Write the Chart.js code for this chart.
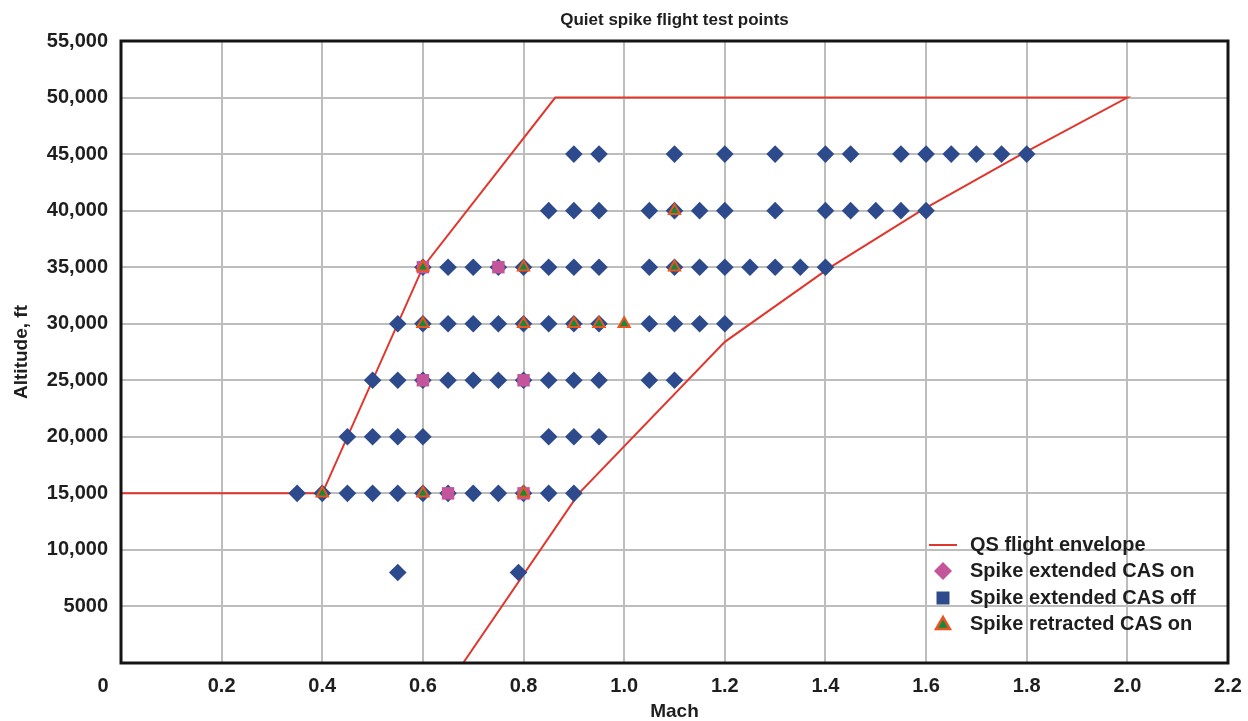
<!DOCTYPE html>
<html>
<head>
<meta charset="utf-8">
<title>Quiet spike flight test points</title>
<script src="https://cdn.jsdelivr.net/npm/chart.js@4.4.0/dist/chart.umd.min.js"></script>
<style>
    html, body { margin: 0; padding: 0; background: #fff; }
</style>
</head>
<body>
<canvas id="myChart" width="1248" height="721"></canvas>
<script>
// QS flight envelope, walked round the boundary (Mach / altitude ft)
const envelopeMach = [0, 0.4, 0.6, 0.863, 2.0, 1.79, 1.59, 1.41, 1.2, 0.91, 0.68]
const envelopeAlt = [15000, 15000, 35000, 50000, 50000, 45000, 40000, 35000, 28400, 15000, 0]

// test points, one Mach list per altitude row
const casOffAlt = [45000, 40000, 35000, 30000, 25000, 20000, 15000, 8000]
const casOffMach = [
    [0.9, 0.95, 1.1, 1.2, 1.3, 1.4, 1.45, 1.55, 1.6, 1.65, 1.7, 1.75, 1.8],
    [0.85, 0.9, 0.95, 1.05, 1.1, 1.15, 1.2, 1.3, 1.4, 1.45, 1.5, 1.55, 1.6],
    [0.6, 0.65, 0.7, 0.75, 0.8, 0.85, 0.9, 0.95, 1.05, 1.1, 1.15, 1.2, 1.25, 1.3, 1.35, 1.4],
    [0.55, 0.6, 0.65, 0.7, 0.75, 0.8, 0.85, 0.9, 0.95, 1.05, 1.1, 1.15, 1.2],
    [0.5, 0.55, 0.6, 0.65, 0.7, 0.75, 0.8, 0.85, 0.9, 0.95, 1.05, 1.1],
    [0.45, 0.5, 0.55, 0.6, 0.85, 0.9, 0.95],
    [0.35, 0.4, 0.45, 0.5, 0.55, 0.6, 0.65, 0.7, 0.75, 0.8, 0.85, 0.9],
    [0.55, 0.79]
]

const casOnAlt = [35000, 25000, 15000]
const casOnMach = [
    [0.6, 0.75],
    [0.6, 0.8],
    [0.65, 0.8]
]

const retractedAlt = [40000, 35000, 30000, 15000]
const retractedMach = [
    [1.1],
    [0.6, 0.8, 1.1],
    [0.6, 0.8, 0.9, 0.95, 1.0],
    [0.4, 0.6, 0.8]
]

const machTicks = [0, 0.2, 0.4, 0.6, 0.8, 1.0, 1.2, 1.4, 1.6, 1.8, 2.0, 2.2]
const altTicks = [0, 5000, 10000, 15000, 20000, 25000, 30000, 35000, 40000, 45000, 50000, 55000]

const FONT = "'Liberation Sans', Arial, Helvetica, sans-serif"
const TEXT = '#1e1e1e'
const colors = {
    envelope: '#e1362c',
    casOn: '#c4559b',
    casOff: '#2d4a8d',
    triFill: '#128a3d',
    triEdge: '#e8561f'
}

function rowsToPoints(alts, machs) {
    let pts = []
    alts.forEach((alt, i) => machs[i].forEach(m => pts.push({x: m, y: alt})))
    return pts
}

function drawMarker(ctx, style, x, y, r) {
    ctx.beginPath()
    if (style === 'diamond') {
        ctx.moveTo(x, y - r); ctx.lineTo(x + r, y); ctx.lineTo(x, y + r); ctx.lineTo(x - r, y)
    } else if (style === 'square') {
        ctx.rect(x - r, y - r, 2 * r, 2 * r)
    } else {
        ctx.moveTo(x, y - r); ctx.lineTo(x + r * 0.866, y + r / 2); ctx.lineTo(x - r * 0.866, y + r / 2)
    }
    ctx.closePath()
}

// legend in the lower right of the plot, frame round the plot, shared "0" at the origin
const extras = {
    id: 'extras',
    afterDraw(chart) {
        const ctx = chart.ctx
        const area = chart.chartArea
        ctx.save()

        ctx.strokeStyle = '#141414'
        ctx.lineWidth = 3
        ctx.strokeRect(area.left, area.top, area.right - area.left, area.bottom - area.top)

        ctx.font = 'bold 20px ' + FONT
        ctx.fillStyle = TEXT
        ctx.textAlign = 'center'
        ctx.textBaseline = 'middle'
        ctx.fillText('0', 103, 686)

        const lx = 943, tx = 970
        const rows = [545, 571, 598, 624]
        const labels = chart.data.datasets.map(d => d.label)

        ctx.strokeStyle = colors.envelope
        ctx.lineWidth = 2
        ctx.beginPath()
        ctx.moveTo(929, rows[0]); ctx.lineTo(957, rows[0])
        ctx.stroke()

        ctx.fillStyle = colors.casOn
        drawMarker(ctx, 'diamond', lx, rows[1], 9)
        ctx.fill()

        ctx.fillStyle = colors.casOff
        drawMarker(ctx, 'square', lx, rows[2], 6.5)
        ctx.fill()

        ctx.fillStyle = colors.triFill
        ctx.strokeStyle = colors.triEdge
        ctx.lineWidth = 2.5
        drawMarker(ctx, 'triangle', lx, rows[3] + 1, 8)
        ctx.fill()
        ctx.stroke()

        ctx.font = 'bold 20px ' + FONT
        ctx.fillStyle = TEXT
        ctx.textAlign = 'left'
        labels.forEach((t, i) => ctx.fillText(t, tx, rows[i]))
        ctx.restore()
    }
}

const config = {
    type: 'scatter',
    data: {
        datasets: [{
            label: 'QS flight envelope',
            data: envelopeMach.map((m, i) => ({x: m, y: envelopeAlt[i]})),
            showLine: true,
            borderColor: colors.envelope,
            borderWidth: 2,
            pointRadius: 0,
            fill: false,
            order: 4
        }, {
            label: 'Spike extended CAS on',
            data: rowsToPoints(casOnAlt, casOnMach),
            pointStyle: 'rect',
            pointRadius: 8.8,
            backgroundColor: colors.casOn,
            borderWidth: 0,
            order: 2
        }, {
            label: 'Spike extended CAS off',
            data: rowsToPoints(casOffAlt, casOffMach),
            pointStyle: 'rectRot',
            pointRadius: 8.8,
            backgroundColor: colors.casOff,
            borderWidth: 0,
            order: 3
        }, {
            label: 'Spike retracted CAS on',
            data: rowsToPoints(retractedAlt, retractedMach),
            pointStyle: 'triangle',
            pointRadius: 6.5,
            backgroundColor: colors.triFill,
            borderColor: colors.triEdge,
            borderWidth: 2,
            order: 1
        }]
    },
    options: {
        responsive: false,
        animation: false,
        events: [],
        layout: {padding: {top: 0, right: 20, bottom: 0, left: 0}},
        plugins: {
            legend: {display: false},
            tooltip: {enabled: false},
            title: {
                display: true,
                fullSize: false,
                text: 'Quiet spike flight test points',
                color: TEXT,
                font: {family: FONT, size: 17, weight: 'bold', lineHeight: 1.2},
                padding: {top: 10, bottom: 10.6}
            }
        },
        scales: {
            x: {
                type: 'linear',
                min: machTicks[0],
                max: machTicks[machTicks.length - 1],
                afterBuildTicks: s => { s.ticks = machTicks.map(v => ({value: v})) },
                afterFit: s => {
                    s.height = 58
                    s.paddingLeft = 0
                    s.paddingRight = 0
                },
                grid: {color: '#bdbdbd', lineWidth: 2, drawTicks: false},
                border: {display: false},
                ticks: {
                    padding: 11,
                    color: TEXT,
                    font: {family: FONT, size: 20, weight: 'bold'},
                    maxRotation: 0,
                    callback: v => v === 0 ? '' : v.toFixed(1)
                },
                title: {
                    display: true,
                    text: 'Mach',
                    color: TEXT,
                    font: {family: FONT, size: 19, weight: 'bold', lineHeight: 1},
                    padding: {top: 0, bottom: 0}
                }
            },
            y: {
                type: 'linear',
                min: altTicks[0],
                max: altTicks[altTicks.length - 1],
                afterBuildTicks: s => { s.ticks = altTicks.map(v => ({value: v})) },
                afterFit: s => {
                    s.width = 121
                    s.paddingTop = 0
                    s.paddingBottom = 0
                },
                grid: {color: '#bdbdbd', lineWidth: 2, drawTicks: false},
                border: {display: false},
                ticks: {
                    padding: 13,
                    color: TEXT,
                    font: {family: FONT, size: 20, weight: 'bold'},
                    callback: v => v === 0 ? '' : (v < 10000 ? String(v) : v.toLocaleString('en-US'))
                },
                title: {
                    display: true,
                    text: 'Altitude, ft',
                    color: TEXT,
                    font: {family: FONT, size: 19, weight: 'bold', lineHeight: 1},
                    padding: {top: 12.5, bottom: 0}
                }
            }
        }
    },
    plugins: [extras]
}

let myChart = new Chart(document.getElementById('myChart'), config)
</script>
</body>
</html>
